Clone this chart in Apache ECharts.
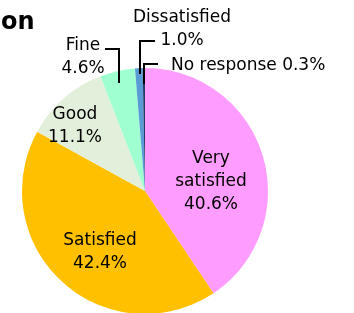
<!doctype html>
<html>
<head>
<meta charset="utf-8">
<title>Satisfaction</title>
<script src="https://cdn.jsdelivr.net/npm/echarts@6/dist/echarts.min.js"></script>
<style>
  html, body { margin: 0; padding: 0; background: #fff; }
  #chart { width: 354px; height: 313px; }
</style>
</head>
<body>
<div id="chart"></div>
<script>
// data
var categories = ['Very\nsatisfied', 'Satisfied', 'Good', 'Fine', 'Dissatisfied', 'No response'];
var values = [40.6, 42.4, 11.1, 4.6, 1.0, 0.3];
var colors = ['#ff9cff', '#ffc000', '#e2efda', '#9fffd0', '#5b9bd5', '#1f3864'];

// label text per slice
function labelText(i) {
  if (i === 5) return categories[i] + ' ' + values[i].toFixed(1) + '%';
  return categories[i] + '\n' + values[i].toFixed(1) + '%';
}

// where each label sits
var labelSpots = [
  { x: 211, y: 182, align: 'center' },
  { x: 100, y: 252, align: 'center' },
  { x: 75, y: 126, align: 'center' },
  { x: 83, y: 57, align: 'center' },
  { x: 182, y: 29, align: 'center' },
  { x: 171, y: 66, align: 'left' }
];
// L-shaped leader lines for the small slices
var leaderLines = [
  [[119, 83], [119, 49], [105, 49]],
  [[140, 74], [140, 41], [155, 41]],
  [[144, 84], [144, 64], [158, 64]]
];

var pieData = [];
for (var i = 0; i < values.length; i++) {
  pieData.push({
    name: categories[i],
    value: values[i],
    itemStyle: { color: colors[i] }
  });
}

var lines = leaderLines.map(function (pts) {
  return {
    type: 'polyline',
    z: 100,
    shape: { points: pts },
    style: { stroke: '#000', lineWidth: 2, fill: null }
  };
});

var myChart = echarts.init(document.getElementById('chart'));
var option = {
  animation: false,
  title: {
    text: 'on',
    left: -4,
    top: 6,
    textStyle: { fontFamily: 'DejaVu Sans', fontWeight: 'bold', fontSize: 24, color: '#000' }
  },
  graphic: lines,
  series: [{
    type: 'pie',
    center: [145, 191],
    radius: [0, 123],
    startAngle: 90,
    clockwise: true,
    data: pieData,
    itemStyle: { borderWidth: 0 },
    label: {
      show: true,
      position: 'inside',
      formatter: function (p) { return labelText(p.dataIndex); },
      fontFamily: 'DejaVu Sans',
      fontSize: 17,
      lineHeight: 23,
      color: '#000'
    },
    labelLine: { show: false },
    labelLayout: function (params) {
      var s = labelSpots[params.dataIndex];
      return { x: s.x, y: s.y, align: s.align, verticalAlign: 'middle' };
    }
  }]
};
myChart.setOption(option);
</script>
</body>
</html>
